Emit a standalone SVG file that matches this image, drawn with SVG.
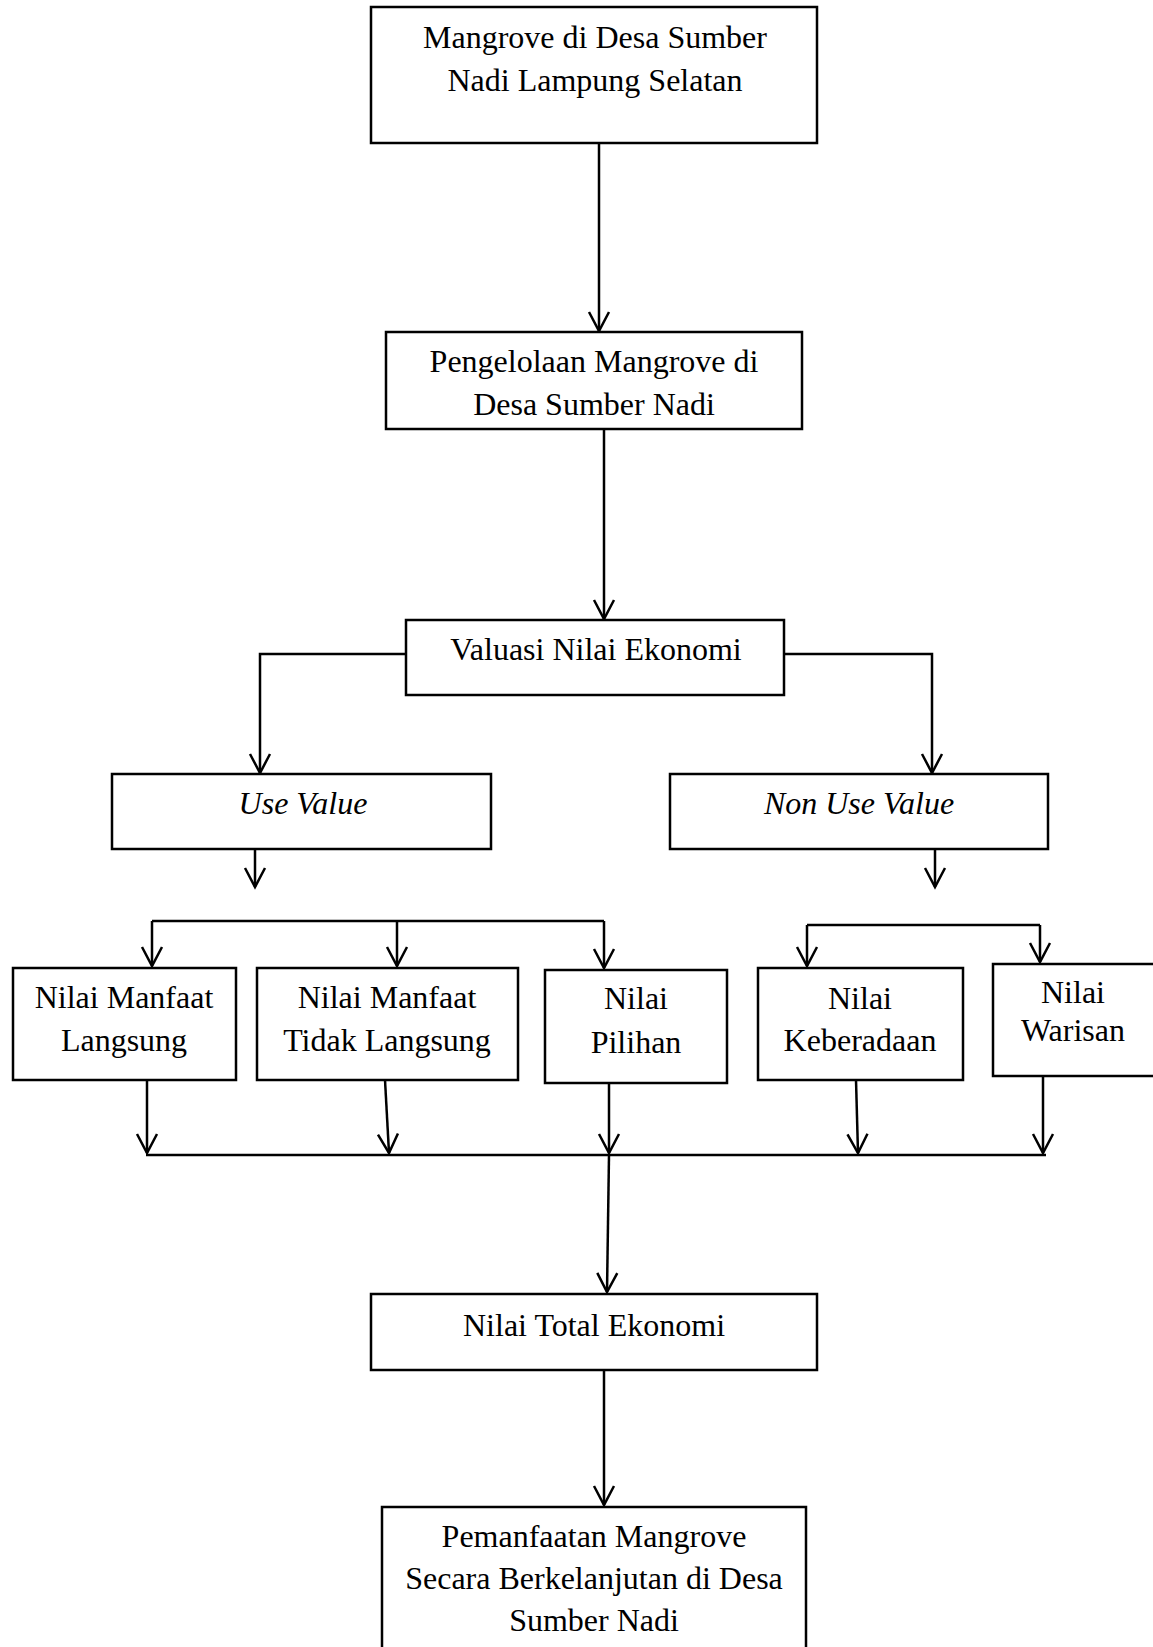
<svg xmlns="http://www.w3.org/2000/svg" width="1153" height="1647" viewBox="0 0 1153 1647">
<style>
.box{fill:#fff;stroke:#000;stroke-width:2.5}
.t{font-family:"Liberation Serif","Times New Roman",serif;font-size:32px;fill:#000;text-anchor:middle}
.i{font-style:italic}
.c{fill:none;stroke:#000;stroke-width:2.5}
</style>
<defs>
<marker id="ah" markerUnits="userSpaceOnUse" markerWidth="24" markerHeight="26" viewBox="-21 -13 24 26" refX="0" refY="0" orient="auto">
<path d="M-19,-10 L0,0 L-19,10" fill="none" stroke="#000" stroke-width="2.5"/>
</marker>
</defs>
<rect width="1153" height="1647" fill="#fff"/>
<g id="connectors">
<path class="c" d="M599,143 L599,331" marker-end="url(#ah)"/>
<path class="c" d="M604,429 L604,619" marker-end="url(#ah)"/>
<path class="c" d="M406,654 L260,654 L260,773" marker-end="url(#ah)"/>
<path class="c" d="M784,654 L932,654 L932,773" marker-end="url(#ah)"/>
<path class="c" d="M255,850 L255,887" marker-end="url(#ah)"/>
<path class="c" d="M935,850 L935,887" marker-end="url(#ah)"/>
<path class="c" d="M152,921 L604,921"/>
<path class="c" d="M152,921 L152,966" marker-end="url(#ah)"/>
<path class="c" d="M397,921 L397,966" marker-end="url(#ah)"/>
<path class="c" d="M604,921 L604,968" marker-end="url(#ah)"/>
<path class="c" d="M807,925 L1040,925"/>
<path class="c" d="M807,925 L807,966" marker-end="url(#ah)"/>
<path class="c" d="M1040,925 L1040,962" marker-end="url(#ah)"/>
<path class="c" d="M147,1080 L147,1153" marker-end="url(#ah)"/>
<path class="c" d="M385,1080 L389,1153" marker-end="url(#ah)"/>
<path class="c" d="M609,1083 L609,1153" marker-end="url(#ah)"/>
<path class="c" d="M856,1080 L858,1153" marker-end="url(#ah)"/>
<path class="c" d="M1043,1076 L1043,1153" marker-end="url(#ah)"/>
<path class="c" d="M146,1155 L1046,1155"/>
<path class="c" d="M609,1155 L607,1292" marker-end="url(#ah)"/>
<path class="c" d="M604,1370 L604,1505" marker-end="url(#ah)"/>
</g>
<g id="n1"><rect class="box" x="371" y="7" width="446" height="136"/>
<text class="t" x="595" y="48">Mangrove di Desa Sumber</text>
<text class="t" x="595" y="91">Nadi Lampung Selatan</text></g>
<g id="n2"><rect class="box" x="386" y="332" width="416" height="97"/>
<text class="t" x="594" y="372">Pengelolaan Mangrove di</text>
<text class="t" x="594" y="415">Desa Sumber Nadi</text></g>
<g id="n3"><rect class="box" x="406" y="620" width="378" height="75"/>
<text class="t" x="596" y="660">Valuasi Nilai Ekonomi</text></g>
<g id="n4"><rect class="box" x="112" y="774" width="379" height="75"/>
<text class="t i" x="303" y="814">Use Value</text></g>
<g id="n5"><rect class="box" x="670" y="774" width="378" height="75"/>
<text class="t i" x="859" y="814">Non Use Value</text></g>
<g id="n6"><rect class="box" x="13" y="968" width="223" height="112"/>
<text class="t" x="124" y="1008">Nilai Manfaat</text>
<text class="t" x="124" y="1051">Langsung</text></g>
<g id="n7"><rect class="box" x="257" y="968" width="261" height="112"/>
<text class="t" x="387" y="1008">Nilai Manfaat</text>
<text class="t" x="387" y="1051">Tidak Langsung</text></g>
<g id="n8"><rect class="box" x="545" y="970" width="182" height="113"/>
<text class="t" x="636" y="1009">Nilai</text>
<text class="t" x="636" y="1053">Pilihan</text></g>
<g id="n9"><rect class="box" x="758" y="968" width="205" height="112"/>
<text class="t" x="860" y="1009">Nilai</text>
<text class="t" x="860" y="1051">Keberadaan</text></g>
<g id="n10"><rect class="box" x="993" y="964" width="170" height="112"/>
<text class="t" x="1073" y="1003">Nilai</text>
<text class="t" x="1073" y="1041">Warisan</text></g>
<g id="n11"><rect class="box" x="371" y="1294" width="446" height="76"/>
<text class="t" x="594" y="1336">Nilai Total Ekonomi</text></g>
<g id="n12"><rect class="box" x="382" y="1507" width="424" height="150"/>
<text class="t" x="594" y="1547">Pemanfaatan Mangrove</text>
<text class="t" x="594" y="1589">Secara Berkelanjutan di Desa</text>
<text class="t" x="594" y="1631">Sumber Nadi</text></g>
</svg>
